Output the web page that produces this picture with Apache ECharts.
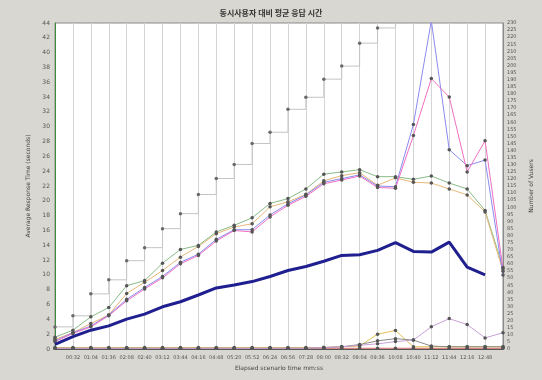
<!DOCTYPE html>
<html>
<head>
<meta charset="utf-8">
<script src="https://cdn.jsdelivr.net/npm/echarts@6/dist/echarts.min.js"></script>
<style>
  html, body { margin: 0; padding: 0; background: #d9d7d1; }
  #chart { width: 542px; height: 380px; }
</style>
</head>
<body>
<div id="chart"></div>
<script>
// Elapsed scenario time, one bucket every 32 s
const times = ["00:00","00:32","01:04","01:36","02:08","02:40","03:12","03:44","04:16","04:48",
  "05:20","05:52","06:24","06:56","07:28","08:00","08:32","09:04","09:36","10:08",
  "10:40","11:12","11:44","12:16","12:48","13:20"];

// Average response time per transaction (seconds)
const avgAll   = [0.64,1.67,2.54,3.12,4.03,4.71,5.70,6.38,7.29,8.24,8.65,9.10,9.78,10.59,11.13,11.85,12.63,12.72,13.31,14.35,13.17,13.08,14.43,11.04,10.01,null];
const txGreen  = [1.6,2.54,4.35,5.6,8.55,9.23,11.58,13.44,13.98,15.8,16.7,17.7,19.65,20.3,21.6,23.6,23.9,24.2,23.26,23.26,22.9,23.35,22.4,21.6,18.7,11.0];
const txOrange = [1.3,2.2,3.43,4.6,7.5,9.0,10.6,12.4,13.85,15.57,16.47,16.9,19.19,19.87,20.87,22.7,23.4,23.8,22.1,23.1,22.5,22.4,21.6,20.8,18.5,10.5];
const txPink   = [1.0,2.1,2.99,4.5,6.5,8.1,9.6,11.5,12.63,14.57,16.0,15.8,17.83,19.4,20.6,22.3,22.8,23.35,21.8,21.7,28.8,36.5,34.0,23.9,28.1,10.8];
const txBlue   = [1.1,2.2,3.1,4.6,6.7,8.3,9.8,11.7,12.8,14.8,16.1,16.1,18.1,19.6,20.8,22.5,23.0,23.5,22.0,21.9,30.3,44.3,26.9,24.75,25.5,10.0];
const txRed    = [0.1,0.1,0.1,0.1,0.1,0.1,0.1,0.1,0.1,0.1,0.1,0.1,0.1,0.1,0.1,0.1,0.1,0.1,0.1,0.1,0.1,0.1,0.1,0.1,0.1,0.1];
const txYellow = [0.2,0.2,0.2,0.2,0.2,0.2,0.2,0.2,0.2,0.2,0.2,0.2,0.2,0.2,0.2,0.2,0.3,0.4,2.0,2.5,0.3,0.3,0.3,0.3,0.3,0.3];
const txGray   = [0.1,0.1,0.1,0.1,0.1,0.1,0.1,0.1,0.1,0.1,0.1,0.1,0.1,0.1,0.1,0.2,0.3,0.6,1.1,1.4,1.2,0.4,0.3,0.3,0.3,0.3];
const txLilac  = [0.1,0.1,0.1,0.1,0.1,0.1,0.1,0.1,0.1,0.1,0.1,0.1,0.1,0.1,0.1,0.2,0.3,0.5,0.7,1.0,1.2,3.0,4.1,3.3,1.5,2.2];

// Running Vusers (right axis)
const vusers = [15.6,23.4,38.9,48.8,62.3,71.5,84.9,95.5,109,120.3,130.2,145,152.9,169.1,177.6,190.4,199.6,215.8,226.5,240,240,240,240,240,240,240];

const chart = echarts.init(document.getElementById('chart'));
const font = 'DejaVu Sans, sans-serif';
const dot = { symbol: 'circle', symbolSize: 3.5, itemStyle: { color: '#555' } };

function tx(data, color, width, z) {
  return Object.assign({
    type: 'line', data, yAxisIndex: 0, z: z || 3,
    lineStyle: { color, width: width || 1 },
    emphasis: { disabled: true }
  }, dot);
}

chart.setOption({
  backgroundColor: '#d9d7d1',
  animation: false,
  title: {
    text: '동시사용자 대비 평균 응답 시간',
    left: 'center', top: 4,
    textStyle: { fontSize: 8, fontWeight: 'bold', color: '#333', fontFamily: 'Noto Sans CJK KR' }
  },
  grid: {
    left: 55, right: 35, top: 23, bottom: 31,
    show: true, backgroundColor: '#ffffff', borderColor: '#8a8a8a', borderWidth: 1
  },
  xAxis: {
    type: 'category', data: times, boundaryGap: false,
    name: 'Elapsed scenario time mm:ss', nameLocation: 'middle', nameGap: 16,
    nameTextStyle: { fontSize: 6, color: '#444', fontFamily: font },
    axisLine: { lineStyle: { color: '#555' } },
    axisTick: { show: false },
    axisLabel: {
      fontSize: 5, color: '#555', fontFamily: font, margin: 6, interval: 0,
      formatter: (v, i) => (i === 0 || i === times.length - 1) ? '' : v
    },
    splitLine: { show: true, lineStyle: { color: '#d4d4d4', width: 1 } }
  },
  yAxis: [{
    type: 'value', min: 0, max: 44, interval: 2,
    name: 'Average Response Time (seconds)', nameLocation: 'middle', nameGap: 20, nameRotate: 90,
    nameTextStyle: { fontSize: 6, color: '#444', fontFamily: font },
    axisLine: { show: true, lineStyle: { color: '#3c8c3c' } },
    axisTick: { show: false },
    axisLabel: { fontSize: 6, color: '#555', fontFamily: font, margin: 5 },
    splitLine: { show: false }
  }, {
    type: 'value', min: 0, max: 230, interval: 5, position: 'right',
    name: 'Number of Vusers', nameLocation: 'middle', nameGap: 25, nameRotate: 90,
    nameTextStyle: { fontSize: 6, color: '#444', fontFamily: font },
    axisLine: { show: true, lineStyle: { color: '#8a8a8a' } },
    axisTick: { show: false },
    axisLabel: { fontSize: 5, color: '#555', fontFamily: font, margin: 4 },
    splitLine: { show: false }
  }],
  series: [
    Object.assign({
      type: 'line', data: vusers, yAxisIndex: 1, step: 'end', z: 2,
      lineStyle: { color: '#c4c4c4', width: 1 }, emphasis: { disabled: true }
    }, { symbol: 'circle', symbolSize: 3.5, itemStyle: { color: '#6a6a6a' } }),
    tx(txRed, '#e07070'),
    tx(txYellow, '#e0c050'),
    tx(txGray, '#8a8a8a'),
    tx(txLilac, '#c8a0d8'),
    tx(txGreen, '#88bb88'),
    tx(txOrange, '#e8b878'),
    tx(txBlue, '#8a8af0'),
    tx(txPink, '#f070c0'),
    Object.assign(tx(avgAll, '#1f1f8f', 3, 5), { showSymbol: false })
  ]
});
</script>
</body>
</html>
